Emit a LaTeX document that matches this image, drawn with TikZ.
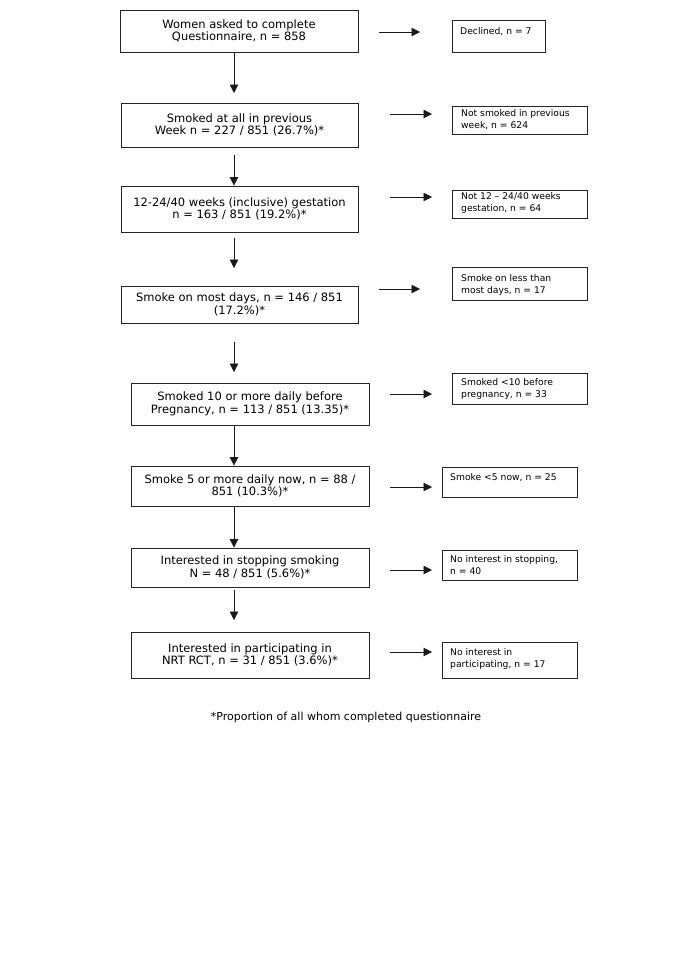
\documentclass[tikz,border=0pt]{standalone}
\usepackage{fontspec}
\setmainfont{DejaVu Sans}
\usetikzlibrary{arrows.meta}
\begin{document}
\begin{tikzpicture}[x=1pt,y=-1pt,
 mbox/.style={draw=black!85, line width=0.9pt, align=center, inner sep=0pt, font=\fontsize{11.5}{12.5}\selectfont},
 rbox/.style={draw=black!85, line width=0.9pt, inner sep=0pt},
 rtext/.style={anchor=north west, align=left, inner sep=0pt, font=\fontsize{9.2}{12.3}\selectfont},
 arr/.style={-{Triangle[length=8.5pt,width=8.5pt]}, line width=0.8pt, black!90}]
\useasboundingbox (0,0) rectangle (685,969);
\fill[white] (0,0) rectangle (685,969);
% main boxes
\node[mbox, minimum width=238pt, minimum height=42pt] (b1) at (239,31) {Women asked to complete\\Questionnaire, n = 858};
\node[mbox, minimum width=237pt, minimum height=44pt] (b2) at (239.5,125) {Smoked at all in previous\\Week n = 227 / 851 (26.7\%)*};
\node[mbox, minimum width=237pt, minimum height=46pt] (b3) at (239.5,209) {12-24/40 weeks (inclusive) gestation\\n = 163 / 851 (19.2\%)*};
\node[mbox, minimum width=237pt, minimum height=37pt] (b4) at (239.5,304.5) {Smoke on most days, n = 146 / 851\\(17.2\%)*};
\node[mbox, minimum width=238pt, minimum height=42pt] (b5) at (250,404) {Smoked 10 or more daily before\\Pregnancy, n = 113 / 851 (13.35)*};
\node[mbox, minimum width=238pt, minimum height=40pt] (b6) at (250,486) {Smoke 5 or more daily now, n = 88 /\\851 (10.3\%)*};
\node[mbox, minimum width=238pt, minimum height=39pt] (b7) at (250,567.5) {Interested in stopping smoking\\N = 48 / 851 (5.6\%)*};
\node[mbox, minimum width=238pt, minimum height=46pt] (b8) at (250,655) {Interested in participating in\\NRT RCT, n = 31 / 851 (3.6\%)*};
% right boxes
\node[rbox, minimum width=93pt, minimum height=32pt] (r1) at (498.5,36) {};
\node[rbox, minimum width=135pt, minimum height=28pt] (r2) at (519.5,120) {};
\node[rbox, minimum width=135pt, minimum height=28pt] (r3) at (519.5,204) {};
\node[rbox, minimum width=135pt, minimum height=33pt] (r4) at (519.5,283.5) {};
\node[rbox, minimum width=135pt, minimum height=31pt] (r5) at (519.5,388.5) {};
\node[rbox, minimum width=135pt, minimum height=30pt] (r6) at (509.5,482) {};
\node[rbox, minimum width=135pt, minimum height=30pt] (r7) at (509.5,565) {};
\node[rbox, minimum width=135pt, minimum height=36pt] (r8) at (509.5,660) {};
\node[rtext] (t1) at (460,27) {Declined, n = 7};
\node[rtext] (t2) at (461,109) {Not smoked in previous\\week, n = 624};
\node[rtext] (t3) at (461,192) {Not 12 -- 24/40 weeks\\gestation, n = 64};
\node[rtext] (t4) at (461,274) {Smoke on less than\\most days, n = 17};
\node[rtext] (t5) at (461,378) {Smoked <10 before\\pregnancy, n = 33};
\node[rtext] (t6) at (450,473) {Smoke <5 now, n = 25};
\node[rtext] (t7) at (450,555) {No interest in stopping,\\n = 40};
\node[rtext] (t8) at (450,648) {No interest in\\participating, n = 17};
% right arrows
\coordinate (a1s) at (379,32); \coordinate (a1e) at (420,32);
\coordinate (a2s) at (390,114); \coordinate (a2e) at (432,114);
\coordinate (a3s) at (390,197); \coordinate (a3e) at (432,197);
\coordinate (a4s) at (379,289); \coordinate (a4e) at (420,289);
\coordinate (a5s) at (390,394); \coordinate (a5e) at (432,394);
\coordinate (a6s) at (390,487); \coordinate (a6e) at (432,487);
\coordinate (a7s) at (390,570); \coordinate (a7e) at (432,570);
\coordinate (a8s) at (390,652); \coordinate (a8e) at (432,652);
\foreach \i in {1,...,8} {\draw[arr] (a\i s) -- (a\i e);}
% down arrows
\coordinate (cx) at (234,0);
\coordinate (d1e) at (234,93);
\coordinate (d2s) at (234,155);
\coordinate (d3s) at (234,238); \coordinate (d3e) at (234,268);
\coordinate (d4s) at (234,342); \coordinate (d4e) at (234,372);
\coordinate (d7s) at (234,590); \coordinate (d7e) at (234,620);
\draw[arr] (b1.south -| cx) -- (d1e);
\draw[arr] (d2s) -- (b3.north -| cx);
\draw[arr] (d3s) -- (d3e);
\draw[arr] (d4s) -- (d4e);
\draw[arr] (b5.south -| cx) -- (b6.north -| cx);
\draw[arr] (b6.south -| cx) -- (b7.north -| cx);
\draw[arr] (d7s) -- (d7e);
% footnote
\node[font=\fontsize{11}{13}\selectfont, inner sep=0pt] (fn) at (346,717) {*Proportion of all whom completed questionnaire};
\end{tikzpicture}
\end{document}
